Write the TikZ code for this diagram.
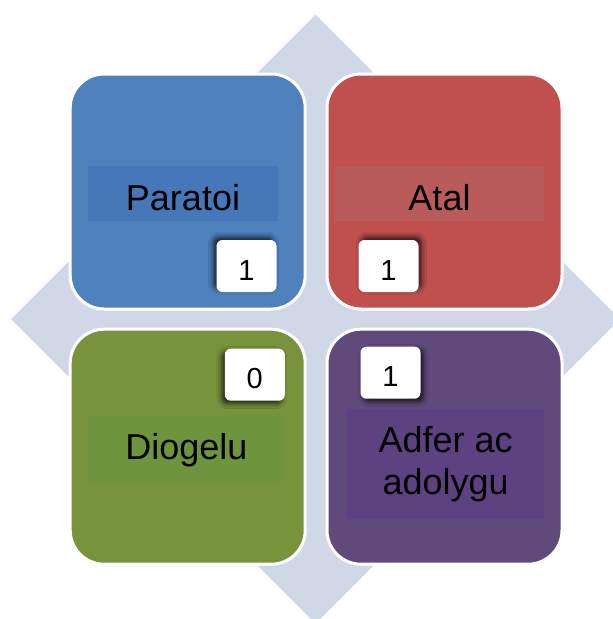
\documentclass[tikz,border=0pt]{standalone}
\usepackage{fontspec}
\setmainfont{Liberation Sans}
\usetikzlibrary{positioning}
\usetikzlibrary{shadows.blur}

\definecolor{fondo}{HTML}{D0D8E8}
\definecolor{azul}{HTML}{4F81BD}
\definecolor{azultit}{HTML}{4678B9}
\definecolor{rojo}{HTML}{C0504D}
\definecolor{rojotit}{HTML}{BA5B5B}
\definecolor{verde}{HTML}{77933C}
\definecolor{verdetit}{HTML}{6F943E}
\definecolor{morado}{HTML}{604A7B}
\definecolor{moradotit}{HTML}{5E4180}

\begin{document}
\begin{tikzpicture}[x=1pt, y=-1pt,
    quad/.style={draw=white, line width=3pt, rounded corners=34pt, minimum width=235pt, minimum height=235pt},
    titbox/.style={inner sep=0pt, font=\fontsize{36}{42}\selectfont, align=center},
    numbox/.style={fill=white, rounded corners=6pt, minimum width=60pt, minimum height=52pt, inner sep=0pt,
      text height=28pt, text depth=0pt, font=\fontsize{29}{29}\selectfont}]
            \useasboundingbox (0,0) rectangle (613,619);
            \clip (0,0) rectangle (613,619);
            % Fondo
            \fill[fondo] (315.5,14.5) -- (620,319) -- (315.5,623.5) -- (11,319) -- cycle;

            % Cuadros
            \node[quad, fill=azul] (paratoi) at (187.7,191.5) {};
            \node[quad, fill=rojo] (atal) at (444.5,191.5) {};
            \node[quad, fill=verde] (diogelu) at (187.7,446.7) {};
            \node[quad, fill=morado] (adfer) at (444.5,446.7) {};

            % Titulos
            \node[titbox, fill=azultit, minimum width=190pt, minimum height=55pt, text height=34pt, text depth=0pt] (tparatoi) at (183,193.4) {Paratoi};
            \node[titbox, fill=rojotit, minimum width=209pt, minimum height=55pt, text height=34pt, text depth=0pt] (tatal) at (439.5,193.4) {Atal};
            \node[titbox, fill=verdetit, minimum width=197pt, minimum height=67pt, text height=22.6pt, text depth=0pt] (tdiogelu) at (186.5,448) {Diogelu};
            \node[titbox, fill=moradotit, minimum width=197pt, minimum height=110pt] (tadfer) at (445.6,464) {Adfer ac\\adolygu};

            % Numeros
            \node[numbox, blur shadow={shadow xshift=-3pt, shadow yshift=3pt, shadow blur radius=5pt, shadow opacity=75}] (nparatoi) at (246.5,266) {1};
            \node[numbox, blur shadow={shadow xshift=3pt, shadow yshift=3pt, shadow blur radius=5pt, shadow opacity=75}] (natal) at (388.5,266) {1};
            \node[numbox, blur shadow={shadow xshift=-3pt, shadow yshift=-3pt, shadow blur radius=5pt, shadow opacity=75}] (ndiogelu) at (254.8,374.7) {0};
            \node[numbox, blur shadow={shadow xshift=3pt, shadow yshift=-3pt, shadow blur radius=5pt, shadow opacity=75}] (nadfer) at (390.5,372.7) {1};
\end{tikzpicture}
\end{document}
